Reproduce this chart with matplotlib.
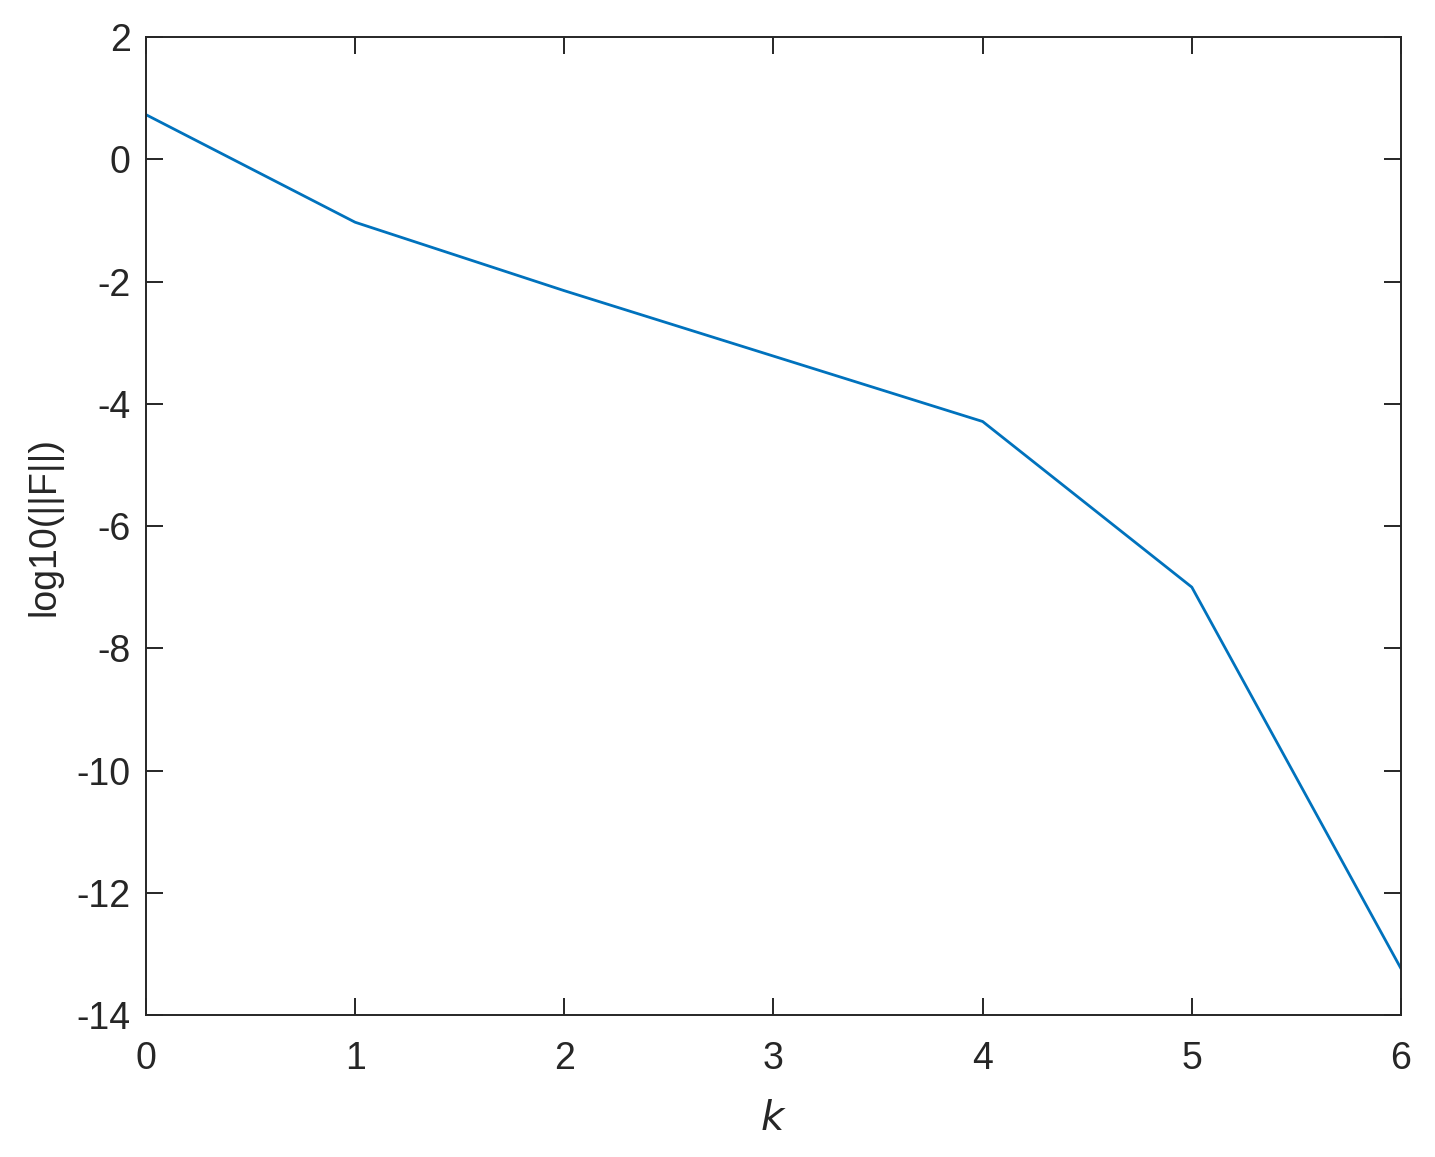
import matplotlib
matplotlib.use("Agg")
from matplotlib import pyplot as plt

plt.rcParams['font.family'] = ['Liberation Sans', 'DejaVu Sans']

# data
k = [0, 1, 2, 3, 4, 5, 6]
log_norm_F = [0.73, -1.03, -2.15, -3.22, -4.29, -7.0, -13.24]

fig = plt.figure(figsize=(14.35, 11.57), dpi=100)
ax = fig.add_axes([0.1017, 0.1227, 0.8746, 0.8453])

ax.plot(k, log_norm_F, color='#0072BD', linewidth=2.0)

ax.set_xlim(0, 6)
ax.set_ylim(-14, 2)
ax.set_xticks(range(0, 7))
ax.set_yticks(range(-14, 3, 2))
ax.set_yticklabels([str(v) for v in range(-14, 3, 2)])

ax.tick_params(direction='in', length=12, width=1.4, top=True, right=True,
               labelsize=27, colors='#262626')
ax.tick_params(axis='x', pad=19)
ax.tick_params(axis='y', pad=11)
for s in ax.spines.values():
    s.set_linewidth(1.4)
    s.set_color('#262626')

ax.set_xlabel('$k$', fontsize=29, color='#262626', labelpad=16)
ax.set_ylabel('log10(||F||)', fontsize=27, color='#262626', labelpad=10)

fig.savefig('out.png', dpi=100, facecolor='white')
